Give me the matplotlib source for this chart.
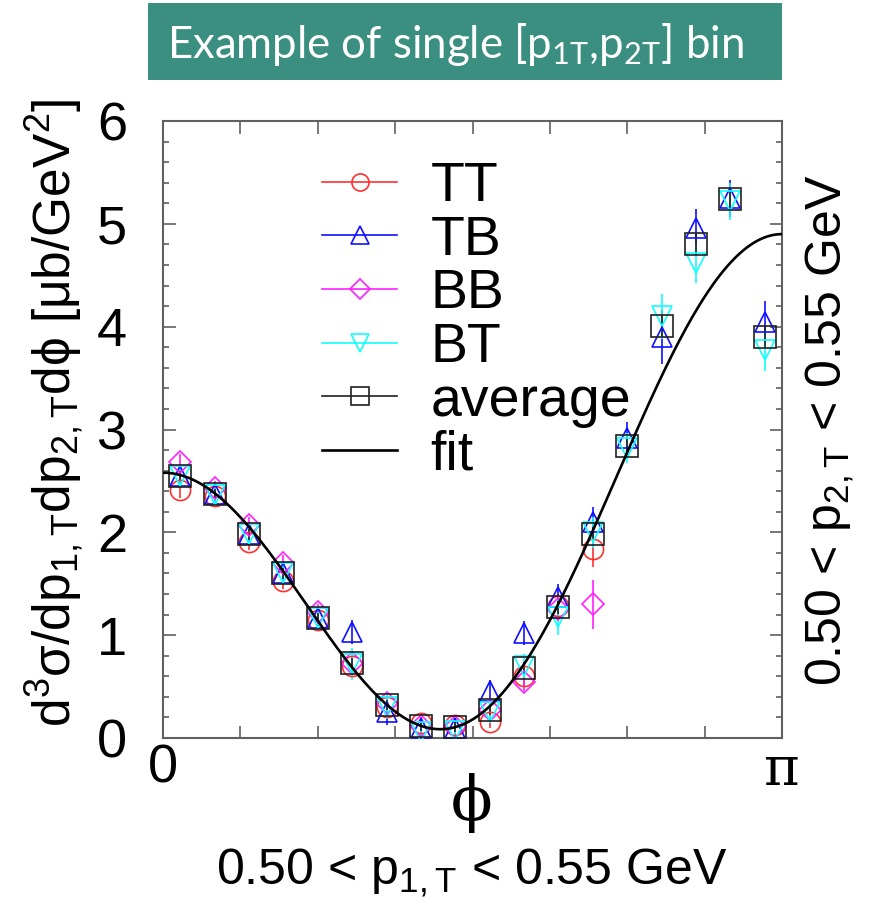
import numpy as np
import matplotlib
matplotlib.use("Agg")
import matplotlib.pyplot as plt
from matplotlib.lines import Line2D
from matplotlib.patches import Rectangle

plt.rcParams["font.family"] = ["Liberation Sans", "DejaVu Sans"]
plt.rcParams["mathtext.fontset"] = "custom"
plt.rcParams["mathtext.rm"] = "Liberation Sans"
plt.rcParams["mathtext.default"] = "regular"

# azimuthal binning: 18 bins over [0, pi]
n_bins = 18
bin_edges = np.linspace(0.0, np.pi, n_bins + 1)
phi = 0.5 * (bin_edges[:-1] + bin_edges[1:])

# cross sections per detector combination [mub/GeV^2]
tt = [2.41, 2.35, 1.91, 1.53, 1.15, 0.70, 0.30, 0.15, 0.13, 0.16, 0.60, 1.28, 1.84]
tt_err = [0.08, 0.07, 0.08, 0.08, 0.07, 0.07, 0.06, 0.05, 0.05, 0.06, 0.09, 0.12, 0.18]

tb = [2.55, 2.37, 1.98, 1.60, 1.17, 1.03, 0.25, 0.10, 0.10, 0.46, 1.02, 1.37, 2.10,
      2.92, 3.90, 4.96, 5.25, 4.05]
tb_err = [0.08, 0.07, 0.08, 0.08, 0.07, 0.12, 0.12, 0.08, 0.08, 0.10, 0.12, 0.13, 0.15,
          0.15, 0.26, 0.18, 0.18, 0.20]

bb = [2.68, 2.43, 2.07, 1.70, 1.23, 0.73, 0.34, 0.12, 0.11, 0.27, 0.54, 1.25, 1.30]
bb_err = [0.08, 0.07, 0.08, 0.08, 0.07, 0.07, 0.06, 0.05, 0.05, 0.06, 0.08, 0.12, 0.24]

bt = [2.55, 2.36, 1.98, 1.60, 1.17, 0.72, 0.30, 0.06, 0.07, 0.25, 0.70, 1.18, 2.00,
      2.82, 4.10, 4.62, 5.22, 3.77]
bt_err = [0.08, 0.07, 0.08, 0.08, 0.07, 0.16, 0.12, 0.08, 0.08, 0.10, 0.12, 0.18, 0.15,
          0.15, 0.22, 0.20, 0.18, 0.20]

average = [2.55, 2.37, 1.98, 1.60, 1.17, 0.73, 0.32, 0.12, 0.11, 0.27, 0.68, 1.27, 1.98,
           2.84, 4.01, 4.80, 5.24, 3.90]
average_err = [0.05, 0.05, 0.05, 0.05, 0.05, 0.05, 0.05, 0.05, 0.05, 0.05, 0.06, 0.06, 0.07,
               0.08, 0.10, 0.10, 0.10, 0.10]

# fit: c0 + c1*cos(phi) + c2*cos(2*phi)
fit_coef = [1.96, -1.16, 1.78]

series = [
    ("TT", tt, tt_err, "#ff3030", "o", 14.5),
    ("TB", tb, tb_err, "#1010ff", "^", 15.0),
    ("BB", bb, bb_err, "#ff20ff", "D", 11.5),
    ("BT", bt, bt_err, "#10ffff", "v", 15.0),
    ("average", average, average_err, "#202020", "s", 15.5),
]

fig = plt.figure(figsize=(8.73, 9.09), dpi=100)
W, H = 873.0, 909.0

# title banner
fig.patches.append(Rectangle((148 / W, 1 - 80 / H), (782 - 148) / W, 77 / H,
                             transform=fig.transFigure, facecolor="#3b8f80",
                             edgecolor="none"))
fig.text(455 / W, 1 - 44 / H, r"Example of single [p$_{1T}$,p$_{2T}$] bin",
         color="white", fontsize=31.5, family=["Lato", "DejaVu Sans"],
         ha="center", va="center")

ax = fig.add_axes([163 / W, 1 - 738 / H, 619 / W, 617 / H])

for name, vals, errs, col, mk, ms in series:
    k = len(vals)
    ax.errorbar(phi[:k], vals, yerr=errs, fmt=mk, ms=ms, mfc="none", mec=col,
                mew=1.2, ecolor=col, elinewidth=1.2, capsize=0, zorder=3)

x_fit = np.linspace(0.0, np.pi, 400)
y_fit = fit_coef[0] + fit_coef[1] * np.cos(x_fit) + fit_coef[2] * np.cos(2 * x_fit)
ax.plot(x_fit, y_fit, color="black", lw=1.9, zorder=4)

ax.set_xlim(0, np.pi)
ax.set_ylim(0, 6)

frame_col = "#606060"
for sp in ax.spines.values():
    sp.set_color(frame_col)
    sp.set_linewidth(1.5)

xt = np.arange(9) * np.pi / 8
ax.set_xticks(xt)
ax.set_xticklabels(["0"] + [""] * 7 + ["π"])
ax.set_yticks(np.arange(7))
ax.set_yticks(np.arange(0, 6.01, 0.2), minor=True)
ax.tick_params(which="both", direction="in", top=True, right=True, color=frame_col,
               width=1.2)
ax.tick_params(which="major", length=9, labelsize=39)
ax.tick_params(axis="y", which="major", pad=26)
ax.tick_params(axis="x", which="major", pad=4)
ax.tick_params(which="minor", length=4.5)

xl = ax.get_xticklabels()
xl[-1].set_family(["DejaVu Serif"])

fig.text(472 / W, 1 - 803 / H, "ϕ", fontsize=44, family=["DejaVu Serif"],
         ha="center", va="center")
fig.text(472 / W, 1 - 873 / H, r"0.50 < p$_{1,T}$ < 0.55 GeV", fontsize=36,
         ha="center", va="center")
fig.text(830 / W, 1 - 430 / H, r"0.50 < p$_{2,T}$ < 0.55 GeV", fontsize=36,
         ha="center", va="center", rotation=90)
fig.text(55 / W, 1 - 413 / H, r"d$^3$σ/dp$_{1,T}$dp$_{2,T}$dϕ [μb/GeV$^2$]",
         fontsize=37, ha="center", va="center", rotation=90)

handles = [Line2D([], [], color=col, marker=mk, ms=ms * 0.85, mfc="none", mec=col,
                  mew=1.2, lw=1.2) for _, _, _, col, mk, ms in series]
handles.append(Line2D([], [], color="black", lw=1.9))
labels = [s[0] for s in series] + ["fit"]
ax.legend(handles, labels, loc="upper left", bbox_to_anchor=(0.257, 0.935),
          frameon=False, fontsize=40, handlelength=1.35, handletextpad=0.6,
          labelspacing=0.03, borderpad=0, borderaxespad=0)

fig.savefig("out.png", dpi=100, facecolor="white")
